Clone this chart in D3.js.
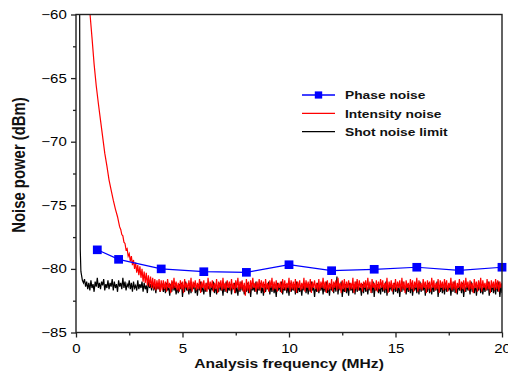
<!DOCTYPE html>
<html>
<head>
<meta charset="utf-8">
<script src="https://cdn.jsdelivr.net/npm/d3@7"></script>
<style>
  html, body { margin: 0; padding: 0; background: #fff; }
  svg { display: block; font-family: "Liberation Sans", Arial, sans-serif; }
</style>
</head>
<body>
<div id="chart"></div>
<script>
// ---- data ----
const phaseFreq = [1, 2, 4, 6, 8, 10, 12, 14, 16, 18, 20];
const phaseNoise = [-78.5, -79.25, -80.0, -80.22, -80.27, -79.67, -80.14, -80.03, -79.87, -80.11, -79.87];

// intensity noise: steep low-frequency roll-off, then a 0.05 MHz sampled trace from 2.0 MHz
const intensityHeadFreq = [0.6, 0.66, 0.75, 0.85, 0.95, 1.05, 1.15, 1.25, 1.35, 1.45, 1.55, 1.65, 1.75, 1.85, 1.95];
const intensityHead = [-59.0, -60.0, -61.8, -63.9, -65.6, -67.0, -68.3, -69.6, -70.9, -71.9, -73.0, -73.8, -74.6, -75.3, -75.9];
const intensityStart = 2.0;
const intensityTrace = [
  -76.3, -76.7, -76.9, -77.3, -77.4, -77.9, -78.0, -78.5, -78.4, -79.0,
  -78.8, -79.4, -79.0, -79.7, -79.3, -80.0, -79.5, -80.3, -79.7, -80.5,
  -79.8, -80.7, -80.0, -81.0, -80.2, -81.1, -80.3, -81.3, -80.5, -81.4,
  -80.6, -81.5, -80.7, -81.6, -80.8, -81.7, -80.9, -81.6, -80.8, -81.8,
  -80.9,
  -81.7, -80.9, -81.6, -81.0, -81.8, -80.8, -81.5, -81.1, -81.9, -80.9,
  -81.6, -80.7, -81.5, -81.0, -81.7, -81.1, -81.8, -80.9, -81.6, -81.0,
  -81.9, -80.8, -81.5, -81.1, -81.7, -80.9, -81.6, -80.7, -81.8, -81.0,
  -81.5, -80.9, -81.7, -81.1, -81.6, -80.8, -81.9, -81.0, -81.5, -80.9,
  -81.7, -81.1, -81.8, -80.7, -81.6, -81.0, -81.5, -80.9, -81.8, -81.1,
  -81.6, -80.8, -81.9, -81.0, -81.5, -80.9, -81.7, -80.7, -81.6, -81.1,
  -81.8, -80.9, -81.5, -81.0, -81.7, -80.8, -81.6, -81.1, -81.9, -80.9,
  -81.5, -80.7, -81.7, -81.0, -81.6, -80.9, -81.8, -81.1, -82.1, -80.8,
  -81.7, -81.0, -81.9, -80.9, -81.6, -80.7, -81.5, -81.1, -81.8, -81.0,
  -81.6, -80.8, -81.7, -80.9, -81.5, -81.0, -81.9, -80.8, -81.6, -81.1,
  -81.8, -80.9, -81.5, -80.7, -81.7, -81.0, -81.6, -80.9, -81.8, -81.1,
  -81.5, -81.0, -81.9, -80.8, -81.6, -80.9, -81.7, -81.1, -81.5, -80.7,
  -81.8, -80.9, -81.6, -81.0, -81.7, -80.8, -81.9, -81.0, -81.5, -80.9,
  -81.7, -81.1, -81.6, -80.7, -81.8, -80.9, -81.5, -81.0, -81.7, -80.8,
  -81.9, -81.0, -81.5, -80.9, -81.6, -81.1, -81.8, -80.8, -81.7, -81.0,
  -81.5, -80.7, -81.6, -81.0, -81.9, -80.9, -81.7, -81.1, -81.6, -80.8,
  -81.8, -81.0, -81.5, -80.9, -81.7, -80.7, -81.6, -81.1, -81.9, -80.9,
  -81.6, -80.8, -81.8, -81.0, -81.5, -80.9, -81.7, -81.1, -81.6, -80.7,
  -81.9, -81.0, -81.6, -80.8, -81.7, -80.9, -81.5, -81.1, -81.8, -81.0,
  -81.5, -80.9, -81.7, -80.7, -81.6, -81.0, -81.9, -80.8, -81.5, -81.1,
  -81.7, -80.9, -81.8, -81.0, -81.6, -80.8, -81.5, -80.9, -81.7, -81.1,
  -81.6, -80.7, -81.9, -81.0, -81.5, -80.9, -81.8, -81.1, -81.6, -80.8,
  -81.7, -81.0, -81.5, -80.9, -81.8, -80.7, -81.6, -81.0, -81.9, -80.9,
  -81.5, -81.1, -81.7, -80.8, -81.6, -80.9, -81.8, -81.0, -81.5, -80.7,
  -81.8, -80.9, -81.6, -81.1, -81.7, -80.8, -81.5, -81.0, -81.9, -80.9,
  -81.6, -81.0, -81.8, -80.7, -81.5, -80.9, -81.7, -81.1, -81.6, -80.8,
  -81.9, -80.9, -81.5, -81.0, -81.7, -80.8, -81.6, -80.9, -81.8, -81.1,
  -81.5, -80.7, -81.7, -81.0, -81.6, -80.9, -81.9, -81.1, -81.5, -80.8,
  -81.7, -81.0, -81.6, -80.9, -81.8, -80.7, -81.5, -81.0, -81.7, -80.9,
  -81.6, -81.1, -81.9, -80.8, -81.5, -81.0, -81.8, -80.9, -81.6, -80.7,
  -81.8, -80.9, -81.5, -81.1, -81.7, -80.8, -81.6, -81.0, -81.9, -80.9,
  -81.5, -81.0, -81.7, -80.8, -81.6, -80.9, -81.8, -81.0, -81.5, -81.1
];

// shot noise limit: DC spike near 0, then a 0.05 MHz sampled trace from 0.4 MHz
const shotHeadFreq = [0.17, 0.18, 0.19, 0.2, 0.23, 0.3, 0.35];
const shotHead = [-58.0, -66.0, -74.0, -78.5, -80.2, -80.9, -81.1];
const shotStart = 0.4;
const shotTrace = [
  -80.8, -81.4, -81.0, -81.6, -81.1, -81.7, -80.9, -81.5, -81.2, -81.8,
  -81.0, -81.4, -80.7, -81.5, -81.1, -81.6, -81.0, -81.3, -80.8, -81.7,
  -81.2, -81.5, -80.9, -81.6, -81.1, -81.4, -80.8, -81.7, -81.0, -81.5,
  -81.2, -81.8, -80.9, -81.4, -81.1, -81.6, -80.7, -81.5, -81.0, -81.7,
  -81.2, -81.4, -80.9, -81.6, -81.1, -81.8, -81.0, -81.5, -81.3, -81.7,
  -80.9, -81.6, -81.2, -81.5, -81.0, -81.8, -81.1, -81.6, -81.3, -81.9,
  -81.0, -81.5, -81.2, -81.7, -81.1, -81.6, -81.4, -81.9, -81.1, -81.6,
  -81.3, -81.8, -81.2,
  -81.2, -81.8, -81.3, -81.9, -81.1, -81.7, -81.4, -82.1, -81.2, -81.8,
  -81.0, -81.7, -81.3, -82.0, -81.4, -81.9, -81.2, -81.6, -81.1, -82.2,
  -81.3, -81.8, -81.0, -81.7, -81.4, -82.0, -81.2, -81.9, -81.3, -81.6,
  -81.1, -81.9, -81.4, -82.1, -81.2, -81.7, -81.0, -81.8, -81.3, -82.0,
  -81.4, -81.8, -81.1, -81.6, -81.3, -82.2, -81.2, -81.7, -81.0, -81.9,
  -81.3, -82.0, -81.4, -81.8, -81.1, -81.7, -81.3, -82.1, -81.2, -81.8,
  -81.0, -81.9, -81.4, -81.7, -81.2, -82.0, -81.3, -81.6, -81.1, -81.9,
  -81.4, -82.1, -81.2, -81.8, -81.0, -81.7, -81.3, -82.0, -81.4, -81.8,
  -81.1, -81.9, -81.3, -82.2, -81.2, -81.7, -81.4, -81.8, -81.0, -82.0,
  -81.3, -81.7, -81.1, -81.9, -81.4, -82.1, -81.2, -81.8, -81.3, -81.6,
  -81.0, -82.0, -81.3, -81.8, -81.2, -81.9, -81.4, -82.2, -81.1, -81.7,
  -81.3, -81.8, -81.0, -82.0, -81.4, -81.7, -81.2, -81.9, -81.3, -82.1,
  -81.1, -81.8, -81.4, -81.7, -81.2, -82.0, -81.0, -81.9, -81.3, -81.8,
  -81.4, -82.1, -81.2, -81.7, -81.1, -81.9, -81.3, -82.0, -81.2, -81.8,
  -81.0, -81.7, -81.4, -82.2, -81.3, -81.8, -81.1, -81.9, -81.4, -81.7,
  -81.2, -82.0, -81.3, -81.8, -81.0, -81.9, -81.4, -82.1, -81.2, -81.7,
  -81.3, -81.9, -81.1, -81.8, -80.6, -82.0, -81.2, -81.7, -81.0, -82.2,
  -81.4, -81.8, -81.2, -81.9, -81.3, -82.1, -81.1, -81.7, -81.4, -81.9,
  -81.2, -82.0, -81.0, -81.8, -81.3, -81.7, -81.4, -82.1, -81.2, -81.9,
  -81.1, -81.8, -81.4, -82.0, -81.2, -81.7, -81.3, -81.9, -81.0, -82.2,
  -81.3, -81.7, -81.2, -81.9, -81.4, -82.0, -81.1, -81.8, -81.3, -81.9,
  -81.0, -82.1, -81.4, -81.8, -81.2, -81.7, -81.3, -82.0, -81.1, -81.8,
  -81.4, -81.9, -81.2, -82.2, -81.3, -81.8, -81.0, -81.7, -81.4, -82.0,
  -81.2, -81.8, -81.3, -81.9, -81.1, -82.1, -81.4, -81.7, -81.2, -81.9,
  -81.3, -82.0, -81.0, -81.8, -81.4, -81.7, -81.2, -82.1, -81.3, -81.8,
  -81.1, -81.9, -81.4, -82.0, -81.2, -81.8, -81.3, -81.7, -81.0, -82.2,
  -81.4, -81.8, -81.2, -81.9, -81.3, -82.0, -81.1, -81.8, -81.4, -81.7,
  -81.2, -82.1, -81.3, -81.8, -81.0, -81.9, -81.4, -82.0, -81.2, -81.7,
  -81.3, -81.9, -81.1, -82.2, -81.4, -81.8, -81.2, -81.7, -81.3, -82.0,
  -81.0, -81.8, -81.4, -81.9, -81.2, -82.1, -81.3, -81.7, -81.1, -81.9,
  -81.4, -82.0, -81.2, -81.8, -81.3, -81.7, -81.0, -82.1, -81.4, -81.8,
  -81.2, -81.9, -81.3, -82.0, -81.1, -81.8, -81.0, -82.2, -81.3, -81.9
];
const traceStep = 0.05;

const xTicks = [0, 5, 10, 15, 20];
const xMinorTicks = [2.5, 7.5, 12.5, 17.5];
const yTicks = [-85, -80, -75, -70, -65, -60];
const yMinorTicks = [-82.5, -77.5, -72.5, -67.5, -62.5];
const seriesLabels = ['Phase noise', 'Intensity noise', 'Shot noise limit'];
const seriesColors = ['#0000ff', '#ff0000', '#000000'];

// ---- layout ----
const width = 508;
const height = 381;
const plot = { left: 76, right: 502, top: 14.5, bottom: 332.5 };
const stretch = 1.2; // source figure is stretched horizontally, text included

const x = d3.scaleLinear().domain([0, 20]).range([plot.left, plot.right]);
const y = d3.scaleLinear().domain([-85, -60]).range([plot.bottom, plot.top]);

const toPoints = (freqs, vals) => freqs.map((f, i) => ({ f, v: vals[i] }));
const tracePoints = (start, vals) => vals.map((v, i) => ({ f: start + i * traceStep, v }));

const shotData = toPoints(shotHeadFreq, shotHead).concat(tracePoints(shotStart, shotTrace));
const intensityData = toPoints(intensityHeadFreq, intensityHead).concat(tracePoints(intensityStart, intensityTrace));
const phaseData = toPoints(phaseFreq, phaseNoise);

const svg = d3.select('#chart').append('svg')
  .attr('width', width)
  .attr('height', height);

svg.append('rect').attr('width', width).attr('height', height).attr('fill', '#fff');

svg.append('clipPath').attr('id', 'plot-clip')
  .append('rect')
  .attr('x', plot.left).attr('y', plot.top)
  .attr('width', plot.right - plot.left).attr('height', plot.bottom - plot.top);

const line = d3.line().x((d) => x(d.f)).y((d) => y(d.v));

const curves = svg.append('g').attr('clip-path', 'url(#plot-clip)');

/* traces: shot noise drawn first, intensity noise on top of it */
curves.append('path').datum(shotData)
  .attr('fill', 'none').attr('stroke', seriesColors[2]).attr('stroke-width', 1.2)
  .attr('d', line);

curves.append('path').datum(intensityData)
  .attr('fill', 'none').attr('stroke', seriesColors[1]).attr('stroke-width', 1.2)
  .attr('d', line);

curves.append('path').datum(phaseData)
  .attr('fill', 'none').attr('stroke', seriesColors[0]).attr('stroke-width', 1.2)
  .attr('d', line);

svg.append('g').selectAll('rect')
  .data(phaseData)
  .join('rect')
  .attr('x', (d) => x(d.f) - 4.4)
  .attr('y', (d) => y(d.v) - 4.3)
  .attr('width', 8.8)
  .attr('height', 8.6)
  .attr('fill', seriesColors[0]);

/* frame */
svg.append('rect')
  .attr('x', plot.left).attr('y', plot.top)
  .attr('width', plot.right - plot.left).attr('height', plot.bottom - plot.top)
  .attr('fill', 'none').attr('stroke', '#222').attr('stroke-width', 1.4);

const styleAxis = (g) => {
  g.select('.domain').remove();
  g.selectAll('line').attr('stroke', '#222').attr('stroke-width', 1.3);
  g.selectAll('text')
    .attr('fill', '#000')
    .attr('font-size', 12.5)
    .attr('font-family', '"Liberation Sans", Arial, sans-serif')
    .attr('transform', `scale(${stretch},1)`);
};

/* X axis: major + minor ticks */
svg.append('g')
  .attr('transform', `translate(0,${plot.bottom})`)
  .call(d3.axisBottom(x).tickValues(xTicks).tickSize(5).tickPadding(7).tickFormat(d3.format('d')))
  .call(styleAxis);

svg.append('g')
  .attr('transform', `translate(0,${plot.bottom})`)
  .call(d3.axisBottom(x).tickValues(xMinorTicks).tickSize(3).tickFormat(''))
  .call(styleAxis);

/* Y axis: major + minor ticks */
svg.append('g')
  .attr('transform', `translate(${plot.left},0)`)
  .call(d3.axisLeft(y).tickValues(yTicks).tickSize(5).tickPadding(2.75).tickFormat(d3.format('d')))
  .call(styleAxis);

svg.append('g')
  .attr('transform', `translate(${plot.left},0)`)
  .call(d3.axisLeft(y).tickValues(yMinorTicks).tickSize(3).tickFormat(''))
  .call(styleAxis);

/* axis titles */
svg.append('text')
  .attr('transform', `translate(289,368) scale(${stretch},1)`)
  .attr('text-anchor', 'middle')
  .attr('font-size', 13)
  .attr('font-weight', 700)
  .attr('fill', '#111')
  .text('Analysis frequency (MHz)');

svg.append('text')
  .attr('transform', `translate(25,165) scale(${stretch},1) rotate(-90)`)
  .attr('text-anchor', 'middle')
  .attr('font-size', 14.9)
  .attr('font-weight', 700)
  .attr('fill', '#111')
  .text('Noise power (dBm)');

/* legend */
const legend = svg.append('g').attr('transform', 'translate(302,95)');
const legendItems = legend.selectAll('g')
  .data(seriesLabels)
  .join('g')
  .attr('transform', (_, i) => `translate(0,${i * 18.3})`);

legendItems.append('line')
  .attr('x1', 0).attr('x2', 33).attr('y1', 0).attr('y2', 0)
  .attr('stroke', (_, i) => seriesColors[i])
  .attr('stroke-width', 1.3);

legendItems.filter((_, i) => i === 0).append('rect')
  .attr('x', 12.8).attr('y', -3.6).attr('width', 7.4).attr('height', 7.2)
  .attr('fill', seriesColors[0]);

legendItems.append('text')
  .attr('transform', `translate(43,4.3) scale(${stretch},1)`)
  .attr('font-size', 11.5)
  .attr('font-weight', 700)
  .attr('fill', '#111')
  .text((d) => d);
</script>
</body>
</html>
